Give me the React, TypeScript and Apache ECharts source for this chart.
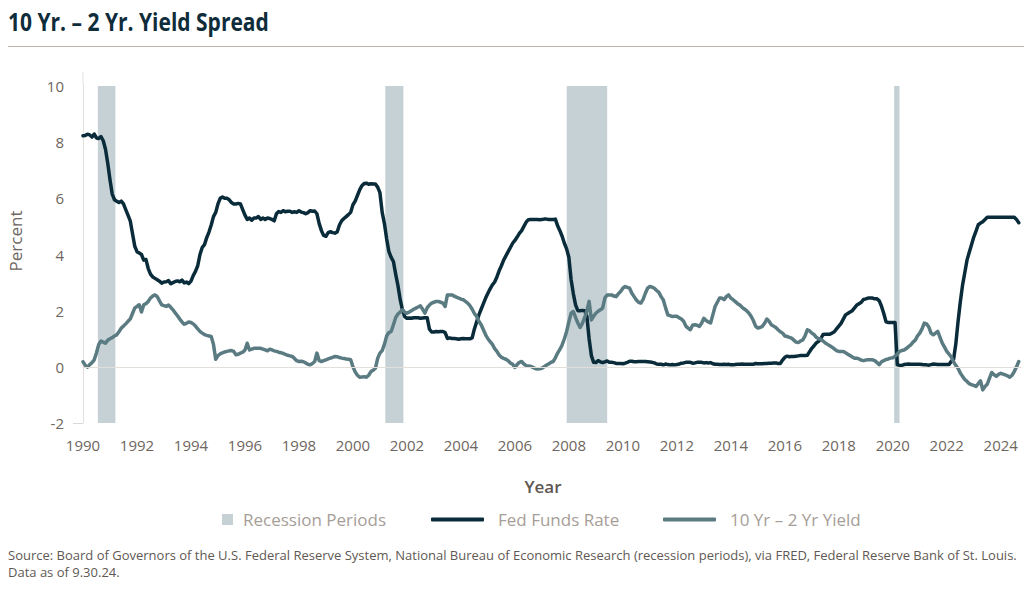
import React, { useEffect, useRef } from "react";
import * as echarts from "echarts";

const START_YEAR = 1990; // monthly observations starting Jan 1990

// Effective Fed Funds Rate, monthly, Jan 1990 – Sep 2024 (%)
const fedFunds = [
  8.23, 8.24, 8.28, 8.26, 8.18, 8.29, 8.15, 8.13, 8.2, 8.05, 7.75, 7.25,
  6.66, 6.15, 5.95, 5.9, 5.85, 5.9, 5.8, 5.6, 5.4, 5.2, 4.75, 4.3,
  4.1, 4.05, 4.0, 3.8, 3.82, 3.5, 3.3, 3.2, 3.15, 3.1, 3.05, 2.98,
  3.02, 3.03, 3.07, 2.96, 3.0, 3.04, 3.06, 3.03, 3.09, 2.99, 3.02, 2.96,
  3.05, 3.25, 3.4, 3.6, 4.0, 4.25, 4.35, 4.6, 4.8, 5.05, 5.35, 5.5,
  5.8, 6.0, 6.05, 6.0, 6.0, 5.95, 5.85, 5.8, 5.8, 5.82, 5.8, 5.6,
  5.4, 5.25, 5.3, 5.22, 5.3, 5.3, 5.35, 5.25, 5.3, 5.25, 5.3, 5.28,
  5.25, 5.2, 5.45, 5.53, 5.5, 5.56, 5.52, 5.54, 5.54, 5.5, 5.52, 5.5,
  5.56, 5.51, 5.49, 5.45, 5.49, 5.56, 5.54, 5.55, 5.45, 5.1, 4.85, 4.68,
  4.65, 4.78, 4.81, 4.78, 4.76, 4.8, 5.05, 5.2, 5.28, 5.35, 5.42, 5.5,
  5.77, 5.9, 6.1, 6.3, 6.45, 6.53, 6.54, 6.5, 6.52, 6.51, 6.51, 6.4,
  6.2, 5.5, 5.1, 4.55, 4.1, 3.9, 3.75, 3.3, 2.9, 2.4, 2.03, 1.79,
  1.73, 1.74, 1.73, 1.75, 1.75, 1.75, 1.73, 1.74, 1.75, 1.75, 1.34, 1.24,
  1.24, 1.26, 1.25, 1.26, 1.26, 1.22, 1.01, 1.03, 1.01, 1.01, 1.0, 0.98,
  1.0, 1.01, 1.0, 1.0, 1.0, 1.03, 1.35, 1.6, 1.85, 2.05, 2.25, 2.45,
  2.62, 2.78, 2.92, 3.02, 3.2, 3.42, 3.6, 3.8, 3.95, 4.1, 4.25, 4.4,
  4.5, 4.62, 4.75, 4.85, 5.0, 5.15, 5.24, 5.25, 5.25, 5.25, 5.25, 5.24,
  5.25, 5.26, 5.26, 5.25, 5.25, 5.25, 5.26, 5.02, 4.85, 4.65, 4.4, 4.2,
  3.9, 3.1, 2.6, 2.2, 2.0, 2.0, 2.01, 2.0, 1.8, 1.0, 0.4, 0.16,
  0.15, 0.22, 0.18, 0.15, 0.18, 0.21, 0.16, 0.16, 0.15, 0.12, 0.12, 0.12,
  0.11, 0.13, 0.16, 0.2, 0.2, 0.18, 0.18, 0.19, 0.19, 0.19, 0.19, 0.18,
  0.17, 0.16, 0.14, 0.1, 0.09, 0.09, 0.07, 0.1, 0.08, 0.07, 0.08, 0.07,
  0.08, 0.1, 0.13, 0.14, 0.16, 0.16, 0.16, 0.13, 0.14, 0.16, 0.16, 0.16,
  0.14, 0.15, 0.14, 0.15, 0.11, 0.09, 0.09, 0.08, 0.08, 0.09, 0.08, 0.09,
  0.07, 0.07, 0.08, 0.09, 0.09, 0.1, 0.09, 0.09, 0.09, 0.09, 0.09, 0.12,
  0.11, 0.11, 0.11, 0.12, 0.12, 0.13, 0.13, 0.14, 0.14, 0.12, 0.12, 0.24,
  0.34, 0.38, 0.36, 0.37, 0.37, 0.38, 0.39, 0.4, 0.4, 0.4, 0.41, 0.54,
  0.66, 0.75, 0.85, 0.91, 1.0, 1.15, 1.16, 1.16, 1.16, 1.2, 1.25, 1.35,
  1.45, 1.55, 1.7, 1.85, 1.9, 1.95, 2.0, 2.1, 2.2, 2.25, 2.3, 2.4,
  2.42, 2.45, 2.45, 2.45, 2.42, 2.42, 2.35, 2.15, 1.9, 1.6, 1.58, 1.58,
  1.58, 1.58, 0.08, 0.05, 0.05, 0.08, 0.09, 0.1, 0.09, 0.09, 0.09, 0.09,
  0.09, 0.08, 0.07, 0.07, 0.06, 0.08, 0.1, 0.09, 0.08, 0.08, 0.08, 0.08,
  0.08, 0.08, 0.2, 0.25, 0.8, 1.6, 2.3, 2.9, 3.35, 3.8, 4.08, 4.35,
  4.62, 4.83, 5.06, 5.12, 5.17, 5.25, 5.33, 5.33, 5.33, 5.33, 5.33, 5.33,
  5.33, 5.33, 5.33, 5.33, 5.33, 5.33, 5.33, 5.25, 5.13,
];

// 10-Year minus 2-Year Treasury yield spread, monthly, Jan 1990 – Sep 2024 (%)
const yieldSpread = [
  0.18, 0.05, -0.01, 0.08, 0.15, 0.25, 0.5, 0.8, 0.92, 0.88, 0.84, 0.95,
  1.0, 1.04, 1.1, 1.14, 1.25, 1.38, 1.45, 1.53, 1.62, 1.7, 1.9, 2.09,
  2.15, 2.21, 1.95, 2.21, 2.25, 2.33, 2.45, 2.52, 2.56, 2.5, 2.35, 2.21,
  2.18, 2.15, 2.2, 2.12, 2.03, 1.92, 1.82, 1.7, 1.6, 1.52, 1.55, 1.6,
  1.58, 1.53, 1.45, 1.35, 1.26, 1.2, 1.15, 1.12, 1.1, 1.08, 0.8, 0.27,
  0.4, 0.46, 0.5, 0.53, 0.55, 0.57, 0.58, 0.55, 0.43, 0.45, 0.49, 0.52,
  0.6, 0.84, 0.6, 0.63, 0.66, 0.66, 0.66, 0.66, 0.63, 0.6, 0.57, 0.63,
  0.6, 0.57, 0.55, 0.52, 0.5, 0.48, 0.44, 0.41, 0.39, 0.37, 0.3, 0.22,
  0.19, 0.2, 0.18, 0.14, 0.09, 0.07, 0.12, 0.19, 0.49, 0.22, 0.19, 0.22,
  0.25, 0.28, 0.31, 0.34, 0.37, 0.36, 0.33, 0.31, 0.3, 0.28, 0.27, 0.25,
  0.0, -0.18, -0.3, -0.37, -0.36, -0.35, -0.37, -0.3, -0.17, -0.12, -0.05, 0.3,
  0.49, 0.58, 0.8, 1.1, 1.22, 1.26, 1.5, 1.75, 1.88, 1.95, 2.03, 1.95,
  1.91, 1.95, 2.0, 2.05, 2.09, 2.13, 2.17, 2.05, 1.91, 2.1, 2.2, 2.27,
  2.3, 2.33, 2.33, 2.3, 2.27, 2.15, 2.56, 2.56, 2.56, 2.52, 2.48, 2.45,
  2.41, 2.39, 2.33, 2.27, 2.18, 2.05, 1.9, 1.79, 1.62, 1.5, 1.32, 1.14,
  1.0, 0.9, 0.8, 0.65, 0.55, 0.42, 0.34, 0.3, 0.27, 0.22, 0.14, 0.09,
  -0.02, 0.08, 0.16, 0.19, 0.1, 0.04, 0.03, 0.02, -0.02, -0.06, -0.08, -0.07,
  -0.05, 0.0, 0.06, 0.1, 0.16, 0.19, 0.32, 0.49, 0.62, 0.78, 1.0, 1.26,
  1.6, 1.91, 1.97, 1.75, 1.56, 1.4, 1.55, 1.75, 2.0, 2.33, 1.67, 1.8,
  1.91, 1.98, 2.03, 2.09, 2.45, 2.56, 2.56, 2.56, 2.52, 2.5, 2.6, 2.68,
  2.8, 2.86, 2.83, 2.8, 2.62, 2.5, 2.38, 2.3, 2.27, 2.4, 2.62, 2.8,
  2.86, 2.84, 2.8, 2.72, 2.65, 2.5, 2.38, 2.1, 1.85, 1.82, 1.79, 1.8,
  1.8, 1.75, 1.7, 1.62, 1.45, 1.38, 1.32, 1.48, 1.5, 1.48, 1.44, 1.55,
  1.73, 1.65, 1.6, 1.56, 1.85, 2.15, 2.3, 2.45, 2.45, 2.39, 2.5, 2.56,
  2.45, 2.39, 2.32, 2.25, 2.2, 2.12, 2.06, 2.0, 1.92, 1.8, 1.65, 1.45,
  1.38, 1.4, 1.44, 1.55, 1.7, 1.62, 1.5, 1.45, 1.4, 1.32, 1.25, 1.2,
  1.1, 1.08, 1.05, 1.02, 0.95, 0.88, 0.87, 0.92, 0.96, 1.1, 1.32, 1.28,
  1.2, 1.15, 1.05, 1.0, 0.98, 0.92, 0.85, 0.8, 0.75, 0.7, 0.64, 0.58,
  0.55, 0.55, 0.55, 0.5, 0.45, 0.4, 0.35, 0.31, 0.31, 0.28, 0.24, 0.22,
  0.24, 0.25, 0.25, 0.25, 0.22, 0.15, 0.08, 0.18, 0.22, 0.26, 0.28, 0.31,
  0.32, 0.38, 0.45, 0.55, 0.58, 0.6, 0.65, 0.72, 0.78, 0.88, 0.95, 1.1,
  1.2, 1.35, 1.56, 1.53, 1.42, 1.2, 1.14, 1.2, 1.26, 1.05, 0.84, 0.7,
  0.55, 0.45, 0.35, 0.18, 0.05, -0.05, -0.22, -0.34, -0.45, -0.52, -0.6, -0.64,
  -0.66, -0.7, -0.6, -0.5, -0.82, -0.7, -0.62, -0.4, -0.2, -0.28, -0.34, -0.27,
  -0.23, -0.26, -0.29, -0.32, -0.37, -0.3, -0.17, 0.0, 0.19,
];

// NBER recession periods (decimal years: start, end)
const recessions = [
  [1990.55, 1991.2],
  [2001.2, 2001.87],
  [2007.92, 2009.42],
  [2020.05, 2020.25],
];

const X_MIN = 1990;
const X_MAX = 2024.75;
const X_STEP = 2;
const Y_MIN = -2;
const Y_MAX = 10;
const Y_STEP = 2;

const TITLE = "10 Yr. – 2 Yr. Yield Spread";
const SOURCE_1 =
  "Source: Board of Governors of the U.S. Federal Reserve System, National Bureau of Economic Research (recession periods), via FRED, Federal Reserve Bank of St. Louis.";
const SOURCE_2 = "Data as of 9.30.24.";
const NAME_REC = "Recession Periods";
const NAME_FED = "Fed Funds Rate";
const NAME_SPREAD = "10 Yr – 2 Yr Yield";

const C_FED = "#0a2c3a";
const C_SPREAD = "#5a7b82";
const C_REC = "#c5d1d5";
const C_TEXT = "#6e6660";
const FONT = "'Open Sans', 'Noto Sans', sans-serif";

export default function App() {
  const ref = useRef<HTMLDivElement>(null);

  useEffect(() => {
    document.body.style.margin = "0";
    const chart = echarts.init(ref.current as HTMLDivElement, undefined, {
      renderer: "svg",
    });
    const toPairs = (arr: number[]) =>
      arr.map((v, i) => [START_YEAR + i / 12, v]);

    const legendText = {
      fontFamily: FONT,
      fontSize: 17,
      color: "#a69e98",
      padding: [0, 0, 0, 9],
    };

    chart.setOption({
      animation: false,
      backgroundColor: "#ffffff",
      textStyle: { fontFamily: FONT },
      grid: { left: 83, right: 3, top: 86, bottom: 181 },
      xAxis: {
        type: "value",
        min: X_MIN,
        max: X_MAX,
        interval: X_STEP,
        axisLine: { show: true, lineStyle: { color: "#dcd8d4", width: 1 } },
        axisTick: { show: false },
        splitLine: { show: false },
        axisLabel: {
          color: C_TEXT,
          fontFamily: FONT,
          fontSize: 15,
          margin: 14,
          showMaxLabel: false,
          formatter: (v: number) => (Number.isInteger(v) ? String(v) : ""),
        },
      },
      yAxis: {
        type: "value",
        min: Y_MIN,
        max: Y_MAX,
        interval: Y_STEP,
        axisLine: { show: true, lineStyle: { color: "#e3e0dd", width: 1 } },
        axisTick: { show: false },
        splitLine: { show: false },
        axisLabel: {
          color: C_TEXT,
          fontFamily: FONT,
          fontSize: 15,
          margin: 19,
        },
      },
      legend: [
        {
          data: [{ name: NAME_REC, icon: "rect" }],
          left: 222,
          top: 511,
          padding: 0,
          itemWidth: 11,
          itemHeight: 11,
          selectedMode: false,
          textStyle: { ...legendText, padding: [0, 0, 0, 5] },
        },
        {
          data: [{ name: NAME_FED, icon: "roundRect" }],
          left: 431,
          top: 511,
          padding: 0,
          itemWidth: 53,
          itemHeight: 4,
          selectedMode: false,
          textStyle: legendText,
        },
        {
          data: [{ name: NAME_SPREAD, icon: "roundRect" }],
          left: 663,
          top: 511,
          padding: 0,
          itemWidth: 53,
          itemHeight: 4,
          selectedMode: false,
          textStyle: legendText,
        },
      ],
      series: [
        {
          name: NAME_REC,
          type: "line",
          data: [],
          color: C_REC,
          itemStyle: { color: C_REC },
          silent: true,
          markArea: {
            silent: true,
            itemStyle: { color: C_REC, opacity: 1 },
            data: recessions.map(([s, e]) => [{ xAxis: s }, { xAxis: e }]),
          },
        },
        {
          name: NAME_FED,
          type: "line",
          data: toPairs(fedFunds),
          color: C_FED,
          showSymbol: false,
          symbol: "none",
          lineStyle: { color: C_FED, width: 3.5, join: "round", cap: "round" },
          silent: true,
        },
        {
          name: NAME_SPREAD,
          type: "line",
          data: toPairs(yieldSpread),
          color: C_SPREAD,
          showSymbol: false,
          symbol: "none",
          lineStyle: {
            color: C_SPREAD,
            width: 3.5,
            join: "round",
            cap: "round",
          },
          silent: true,
          markLine: {
            silent: true,
            symbol: "none",
            label: { show: false },
            lineStyle: { color: "#e2dfdb", width: 1, type: "solid" },
            data: [{ yAxis: 0 }],
          },
        },
      ],
      graphic: [
        {
          type: "text",
          x: 8,
          y: 21,
          scaleX: 0.84,
          style: {
            text: TITLE,
            fill: "#0f2c3b",
            font: `bold 25px ${FONT}`,
            align: "left",
            verticalAlign: "middle",
          },
        },
        {
          type: "line",
          shape: { x1: 8, y1: 46.5, x2: 1024, y2: 46.5 },
          style: { stroke: "#bcb4ad", lineWidth: 1 },
        },
        {
          type: "line",
          shape: { x1: 83, y1: 72, x2: 83, y2: 86 },
          style: { stroke: "#e3e0dd", lineWidth: 1 },
        },
        {
          type: "line",
          shape: { x1: 73, y1: 423.5, x2: 83, y2: 423.5 },
          style: { stroke: "#dcd8d4", lineWidth: 1 },
        },
        {
          type: "text",
          x: 15,
          y: 241,
          rotation: Math.PI / 2,
          style: {
            text: "Percent",
            fill: C_TEXT,
            font: `17px ${FONT}`,
            align: "center",
            verticalAlign: "middle",
          },
        },
        {
          type: "text",
          x: 543,
          y: 486,
          style: {
            text: "Year",
            fill: "#5e5650",
            font: `600 17px ${FONT}`,
            align: "center",
            verticalAlign: "middle",
          },
        },
        {
          type: "text",
          x: 8,
          y: 555,
          style: {
            text: SOURCE_1,
            fill: "#5f5955",
            font: `13px ${FONT}`,
            align: "left",
            verticalAlign: "middle",
          },
        },
        {
          type: "text",
          x: 8,
          y: 572,
          style: {
            text: SOURCE_2,
            fill: "#5f5955",
            font: `13px ${FONT}`,
            align: "left",
            verticalAlign: "middle",
          },
        },
      ],
    });

    return () => chart.dispose();
  }, []);

  return <div ref={ref} style={{ width: 1024, height: 604 }} />;
}
